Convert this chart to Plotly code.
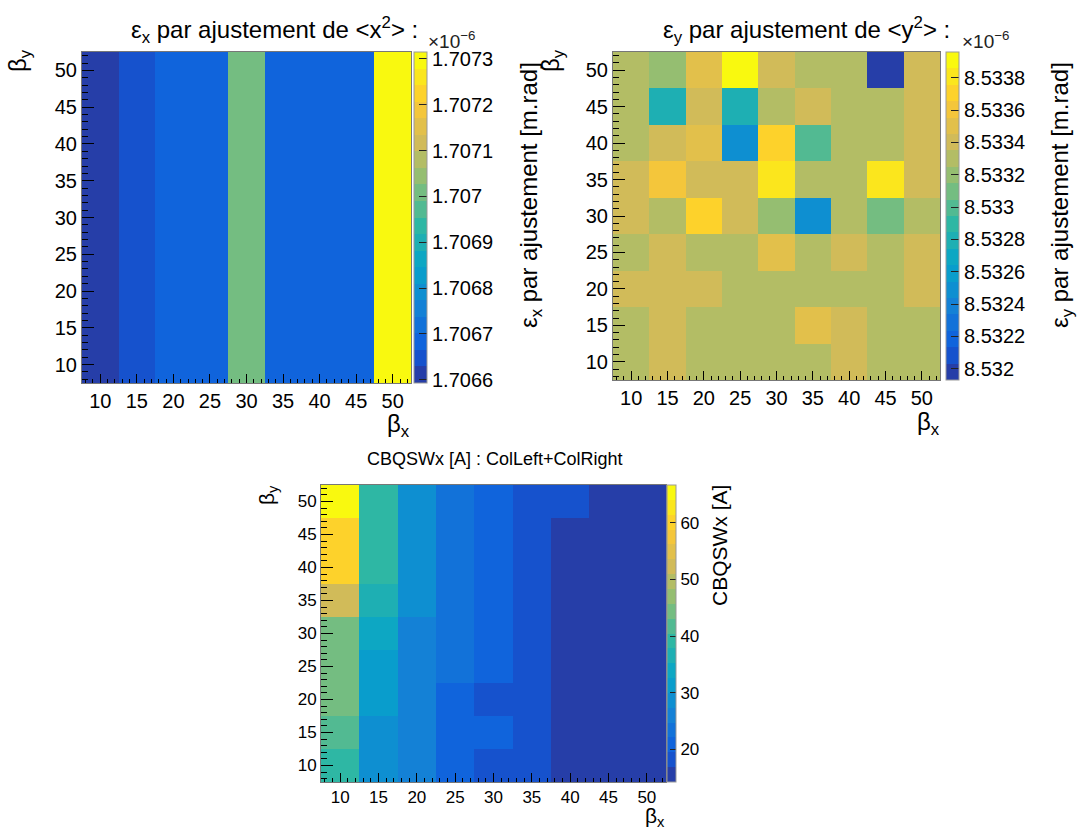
import math
import plotly.graph_objects as go

# ---------------- data ----------------
beta_x = [10, 15, 20, 25, 30, 35, 40, 45, 50]
beta_y = [10, 15, 20, 25, 30, 35, 40, 45, 50]

# eps_x (x1e-6 m.rad), rows = beta_y (10 -> 50), columns = beta_x
eps_x = [
    [1.706593, 1.706647, 1.706683, 1.706683, 1.707008, 1.706683, 1.706683, 1.706683, 1.707315],
    [1.706593, 1.706647, 1.706683, 1.706683, 1.707008, 1.706683, 1.706683, 1.706683, 1.707315],
    [1.706593, 1.706647, 1.706683, 1.706683, 1.707008, 1.706683, 1.706683, 1.706683, 1.707315],
    [1.706593, 1.706647, 1.706683, 1.706683, 1.707008, 1.706683, 1.706683, 1.706683, 1.707315],
    [1.706593, 1.706647, 1.706683, 1.706683, 1.707008, 1.706683, 1.706683, 1.706683, 1.707315],
    [1.706593, 1.706647, 1.706683, 1.706683, 1.707008, 1.706683, 1.706683, 1.706683, 1.707315],
    [1.706593, 1.706647, 1.706683, 1.706683, 1.707008, 1.706683, 1.706683, 1.706683, 1.707315],
    [1.706593, 1.706647, 1.706683, 1.706683, 1.707008, 1.706683, 1.706683, 1.706683, 1.707315],
    [1.706593, 1.706647, 1.706683, 1.706683, 1.707008, 1.706683, 1.706683, 1.706683, 1.707315],
]
eps_x_ticks = [1.7066, 1.7067, 1.7068, 1.7069, 1.7070, 1.7071, 1.7072, 1.7073]
eps_x_ticktext = ["1.7066", "1.7067", "1.7068", "1.7069", "1.707", "1.7071", "1.7072", "1.7073"]

# eps_y (x1e-6 m.rad), rows = beta_y (10 -> 50), columns = beta_x
eps_y = [
    [8.53330, 8.53340, 8.53330, 8.53330, 8.53330, 8.53330, 8.53340, 8.53330, 8.53330],
    [8.53330, 8.53340, 8.53330, 8.53330, 8.53330, 8.53350, 8.53340, 8.53330, 8.53330],
    [8.53340, 8.53340, 8.53340, 8.53330, 8.53330, 8.53330, 8.53330, 8.53330, 8.53340],
    [8.53330, 8.53340, 8.53330, 8.53330, 8.53350, 8.53330, 8.53340, 8.53330, 8.53340],
    [8.53340, 8.53330, 8.53371, 8.53340, 8.53320, 8.53249, 8.53330, 8.53310, 8.53330],
    [8.53340, 8.53360, 8.53340, 8.53340, 8.53381, 8.53330, 8.53330, 8.53381, 8.53340],
    [8.53330, 8.53340, 8.53350, 8.53249, 8.53371, 8.53300, 8.53330, 8.53330, 8.53340],
    [8.53330, 8.53279, 8.53340, 8.53279, 8.53330, 8.53340, 8.53330, 8.53330, 8.53340],
    [8.53330, 8.53320, 8.53350, 8.53396, 8.53340, 8.53330, 8.53330, 8.53193, 8.53340],
]
eps_y_ticks = [8.5320, 8.5322, 8.5324, 8.5326, 8.5328, 8.5330, 8.5332, 8.5334, 8.5336, 8.5338]
eps_y_ticktext = ["8.532", "8.5322", "8.5324", "8.5326", "8.5328", "8.533", "8.5332", "8.5334", "8.5336", "8.5338"]

# CBQSWx [A], rows = beta_y (10 -> 50), columns = beta_x
cbqswx = [
    [39.1, 28.6, 26.0, 20.8, 18.0, 18.0, 16.0, 15.0, 14.2],
    [41.8, 28.6, 26.0, 20.8, 20.8, 18.0, 16.0, 15.0, 14.4],
    [44.4, 31.3, 26.0, 20.8, 18.0, 18.0, 16.1, 15.1, 14.5],
    [44.4, 31.3, 26.0, 23.4, 20.8, 18.0, 16.2, 15.2, 14.6],
    [44.4, 33.9, 26.0, 23.4, 20.8, 18.0, 16.3, 15.3, 14.7],
    [52.3, 36.5, 28.6, 23.4, 20.8, 18.0, 16.4, 15.4, 14.8],
    [60.1, 39.1, 28.6, 23.4, 20.8, 18.0, 16.5, 15.5, 14.9],
    [60.1, 39.1, 28.6, 23.4, 20.8, 18.0, 16.6, 15.6, 15.0],
    [66.7, 39.1, 28.6, 23.4, 20.8, 18.0, 17.5, 16.0, 15.2],
]
cbq_ticks = [20, 30, 40, 50, 60]
axis_ticks = [10, 15, 20, 25, 30, 35, 40, 45, 50]

# ---------------- ROOT kBird palette, 20 contour levels ----------------
stops = [0.0, 0.125, 0.25, 0.375, 0.5, 0.625, 0.75, 0.875, 1.0]
red = [0.2082, 0.0592, 0.0780, 0.0232, 0.1802, 0.5301, 0.8186, 0.9956, 0.9764]
green = [0.1664, 0.3599, 0.5041, 0.6419, 0.7178, 0.7492, 0.7328, 0.7862, 0.9832]
blue = [0.5293, 0.8684, 0.8385, 0.7914, 0.6425, 0.4662, 0.3499, 0.1968, 0.0539]
NCOL = 255
palette = []
for g in range(1, len(stops)):
    n = int(math.floor(NCOL * stops[g]) - math.floor(NCOL * stops[g - 1]))
    for c in range(n):
        palette.append((red[g - 1] + c * (red[g] - red[g - 1]) / n,
                        green[g - 1] + c * (green[g] - green[g - 1]) / n,
                        blue[g - 1] + c * (blue[g] - blue[g - 1]) / n))
NLEV = 20
colorscale = []
for i in range(NLEV):
    idx = min(int((i + 0.99) * NCOL / NLEV), NCOL - 1)
    r, gg, b = palette[idx]
    col = "rgb(%d,%d,%d)" % (round(r * 255), round(gg * 255), round(b * 255))
    colorscale.append([i / NLEV, col])
    colorscale.append([(i + 1) / NLEV, col])

W, H = 1078, 829
FONT = "Liberation Sans, Arial, Helvetica, sans-serif"


def px(x):
    return x / W


def py(y):
    return 1 - y / H


def zr(z):
    flat = [v for row in z for v in row]
    return min(flat), max(flat)


panels = [
    # (z, plot box, colorbar box, tickvals, ticktext, tick font, cb ticklen)
    (eps_x, (82, 411, 52, 383), (414, 427), eps_x_ticks, eps_x_ticktext, 20, 8),
    (eps_y, (613, 940, 52, 380), (946, 959), eps_y_ticks, eps_y_ticktext, 20, 8),
    (cbqswx, (321, 666, 485, 782), (667, 676), cbq_ticks, [str(t) for t in cbq_ticks], 17, 6),
]

fig = go.Figure()
layout_axes = {}
for k, (z, (x0, x1, y0, y1), (c0, c1), tv, tt, fs, cbl) in enumerate(panels):
    zmin, zmax = zr(z)
    sfx = "" if k == 0 else str(k + 1)
    fig.add_trace(go.Heatmap(
        x=beta_x, y=beta_y, z=z, zmin=zmin, zmax=zmax,
        colorscale=colorscale, xaxis="x" + sfx, yaxis="y" + sfx,
        colorbar=dict(
            x=px(c0), xanchor="left", xpad=0, ypad=0,
            y=py(y1), yanchor="bottom", len=(y1 - y0) / H, lenmode="fraction",
            thickness=c1 - c0, thicknessmode="pixels",
            outlinewidth=1, outlinecolor="#999999",
            tickvals=tv, ticktext=tt, ticks="inside", ticklen=cbl,
            tickcolor="#222222", tickfont=dict(size=fs, color="black", family=FONT),
        ),
        hoverinfo="skip",
    ))
    common = dict(
        range=[7.5, 52.5], tickvals=axis_ticks, ticks="inside", tickcolor="black",
        showgrid=False, zeroline=False, showline=True, linecolor="#777777", linewidth=1,
        mirror=True, automargin=False, tickfont=dict(size=fs, color="black", family=FONT),
    )
    layout_axes["xaxis" + sfx] = dict(
        common, domain=[px(x0), px(x1)], anchor="y" + sfx, ticklen=9,
        minor=dict(dtick=1, ticks="inside", ticklen=4, tickcolor="black"),
    )
    layout_axes["yaxis" + sfx] = dict(
        common, domain=[py(y1), py(y0)], anchor="x" + sfx, ticklen=12,
        minor=dict(dtick=1, ticks="inside", ticklen=6, tickcolor="black"),
    )

annotations = []


def ann(text, x, y, size, xanchor="center", yanchor="middle", angle=0, color="black"):
    annotations.append(dict(
        text=text, x=px(x), y=py(y), xref="paper", yref="paper",
        xanchor=xanchor, yanchor=yanchor, textangle=angle, showarrow=False,
        font=dict(size=size, color=color, family=FONT),
    ))


# titles
ann("ε<sub>x</sub> par ajustement de &lt;x<sup>2</sup>&gt; :", 274, 30, 24)
ann("ε<sub>y</sub> par ajustement de &lt;y<sup>2</sup>&gt; :", 806, 30, 24)
ann("CBQSWx [A] : ColLeft+ColRight", 495, 459, 18)
# axis titles
ann("β<sub>y</sub>", 19, 61, 24, angle=-90)
ann("β<sub>y</sub>", 552, 61, 24, angle=-90)
ann("β<sub>y</sub>", 268, 495, 21, angle=-90)
ann("β<sub>x</sub>", 412, 425, 24, xanchor="right")
ann("β<sub>x</sub>", 942, 423, 24, xanchor="right")
ann("β<sub>x</sub>", 667, 817, 21, xanchor="right")
# colorbar titles
ann("ε<sub>x</sub> par ajustement [m.rad]", 530, 195, 24, angle=-90)
ann("ε<sub>y</sub> par ajustement [m.rad]", 1061, 195, 24, angle=-90)
ann("CBQSWx [A]", 719, 546, 21, angle=-90)
# exponent labels
ann("×10<sup>−6</sup>", 426, 40, 19, xanchor="left", color="#222222")
ann("×10<sup>−6</sup>", 960, 40, 19, xanchor="left", color="#222222")

fig.update_layout(
    width=W, height=H, autosize=False,
    margin=dict(l=0, r=0, t=0, b=0, pad=0, autoexpand=False),
    paper_bgcolor="white", plot_bgcolor="white",
    font=dict(family=FONT, color="black"),
    showlegend=False, annotations=annotations,
    **layout_axes,
)

fig.write_html(
    "out.html",
    config={"displayModeBar": False, "staticPlot": True},
    post_script="document.body.style.margin='0px';document.body.style.padding='0px';"
                "document.body.style.overflow='hidden';",
)
